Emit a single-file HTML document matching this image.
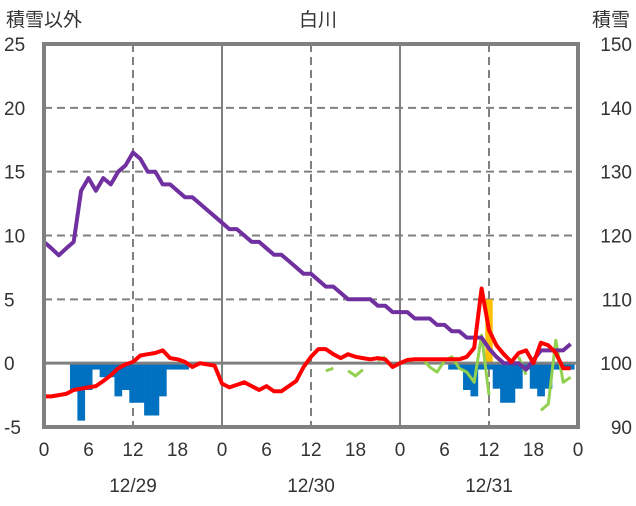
<!DOCTYPE html>
<html><head><meta charset="utf-8"><style>
body{margin:0;background:#fff;}
svg text{font-family:"Liberation Sans","Noto Sans CJK JP",sans-serif;font-size:19px;fill:#333;}
</style></head><body>
<svg id="chart" width="636" height="501" viewBox="0 0 636 501" xmlns="http://www.w3.org/2000/svg">
<text x="6" y="26">積雪以外</text>
<text x="318" y="26" text-anchor="middle">白川</text>
<text x="630" y="26" text-anchor="end">積雪</text>
<g id="grid"></g><g id="bars"></g><g id="lines"></g><g id="axes"></g>
</svg>
<script>
const leftTicks=[25,20,15,10,5,0,-5];
const rightTicks=[150,140,130,120,110,100,90];
const hourTicks=[0,6,12,18,0,6,12,18,0,6,12,18,0];
const dayLabels=["12/29","12/30","12/31"];
const precip=[null,null,null,null,-2.1,-4.5,-2.1,-0.5,-1.1,-1.1,-2.6,-2.1,-3.1,-3.1,-4.1,-4.1,-2.6,-0.5,-0.5,-0.5,null,null,null,null,
null,null,null,null,null,null,null,null,null,null,null,null,null,null,null,null,null,null,null,null,null,null,null,null,
null,null,null,null,null,null,null,-0.5,-0.5,-2.1,-2.6,-0.5,-0.5,-2,-3.1,-3.1,-2,-0.5,-2,-2.6,-2,-0.5,-0.5,-0.5];
const sunshine=[];sunshine[60]=5;
const temp=[-2.6,-2.6,-2.5,-2.4,-2.1,-2,-1.9,-1.8,-1.4,-0.95,-0.4,-0.1,0.1,0.6,0.7,0.8,1.0,0.4,0.3,0.1,-0.3,0,-0.1,-0.2,
-1.6,-1.9,-1.7,-1.5,-1.8,-2.1,-1.8,-2.2,-2.2,-1.8,-1.4,-0.3,0.5,1.1,1.1,0.7,0.4,0.7,0.5,0.4,0.3,0.4,0.3,-0.3,
0,0.25,0.3,0.3,0.3,0.3,0.3,0.3,0.3,0.5,1.2,5.85,2.6,1.4,0.7,0.1,0.8,1.0,0,1.6,1.4,0.8,-0.4,-0.4];
const wind=[null,null,null,null,null,null,null,null,null,null,null,null,null,null,null,null,null,null,null,null,null,null,null,null,
null,null,null,null,null,null,null,null,null,null,null,null,null,null,-0.6,-0.4,null,-0.6,-1.0,-0.5,null,0.2,0.5,null,
null,null,null,0.4,-0.3,-0.7,0.2,0.5,-0.4,-0.7,-1.5,2.2,-2.5,null,null,null,0.5,-0.9,null,-3.7,-3.2,1.8,-1.5,-1.1];
const snow=[119,118,116.9,118,119,127,129,127,129,128,130,131,133,132,130,130,128,128,127,126,126,125,124,123,
122,121,121,120,119,119,118,117,117,116,115,114,114,113,112,112,111,110,110,110,110,109,109,108,
108,108,107,107,107,106,106,105,105,104,104,104,102.3,101,100,100,100,99,100.5,102,102,102,102,103];

const X0=44,X1=578,Y0=44,Y1=427;
const x=h=>X0+(X1-X0)*h/72;
const yL=v=>Y0+(25-v)*(Y1-Y0)/30;
const yR=v=>Y0+(150-v)*(Y1-Y0)/60;
const NS="http://www.w3.org/2000/svg";
function mk(tag,attrs,parent){const e=document.createElementNS(NS,tag);for(const k in attrs)e.setAttribute(k,attrs[k]);document.getElementById(parent).appendChild(e);return e;}
// grid
[5,10,15,20].forEach(v=>{const l=mk('line',{x1:X0,x2:X1,y1:yL(v),y2:yL(v),stroke:'#808080','stroke-width':2,'stroke-dasharray':'8,5'},'grid');

});
[12,36,60].forEach(h=>{const l=mk('line',{x1:x(h),x2:x(h),y1:Y0,y2:Y1,stroke:'#808080','stroke-width':2,'stroke-dasharray':'8,5'},'grid');

});
[24,48].forEach(h=>{const l=mk('line',{x1:x(h),x2:x(h),y1:Y0,y2:Y1,stroke:'#808080','stroke-width':2},'grid');

});
// bars
const bw=(X1-X0)/72;
precip.forEach((v,h)=>{if(v==null)return;const r=mk('rect',{x:x(h)-bw/2,y:yL(0),width:bw+0.3,height:yL(v)-yL(0),fill:'#0070c0'},'bars');

});
sunshine.forEach((v,h)=>{if(v==null)return;const r=mk('rect',{x:x(h)-bw/2,y:yL(v),width:bw,height:yL(0)-yL(v),fill:'#ffc000'},'bars');

});
const z=mk('line',{x1:X0,x2:X1,y1:yL(0),y2:yL(0),stroke:'#808080','stroke-width':3},'bars');


function path(arr,fy){let d='',pen=false;arr.forEach((v,h)=>{if(v==null){pen=false;return;}d+=(pen?'L':'M')+x(h).toFixed(1)+','+fy(v).toFixed(1);pen=true;});return d;}
const g=mk('path',{d:path(wind,yL),fill:'none',stroke:'#92d050','stroke-width':3,'stroke-linejoin':'round'},'lines');


const p=mk('path',{d:path(snow,yR),fill:'none',stroke:'#7030a0','stroke-width':4,'stroke-linejoin':'round'},'lines');


const t=mk('path',{d:path(temp,yL),fill:'none',stroke:'#ff0000','stroke-width':4,'stroke-linejoin':'round'},'lines');


// frame
const f=mk('rect',{x:X0,y:Y0,width:X1-X0,height:Y1-Y0,fill:'none',stroke:'#808080','stroke-width':4},'axes');


leftTicks.forEach(v=>{const e=mk('text',{x:4,y:yL(v)+7},'axes');e.textContent=v;

});
rightTicks.forEach(v=>{const e=mk('text',{x:632,y:yR(v)+7,'text-anchor':'end'},'axes');e.textContent=v;

});
hourTicks.forEach((v,i)=>{const e=mk('text',{x:x(i*6),y:456,'text-anchor':'middle'},'axes');e.textContent=v;

});
dayLabels.forEach((v,i)=>{const e=mk('text',{x:x(12+24*i),y:492,'text-anchor':'middle'},'axes');e.textContent=v;

});
</script>
</body></html>
